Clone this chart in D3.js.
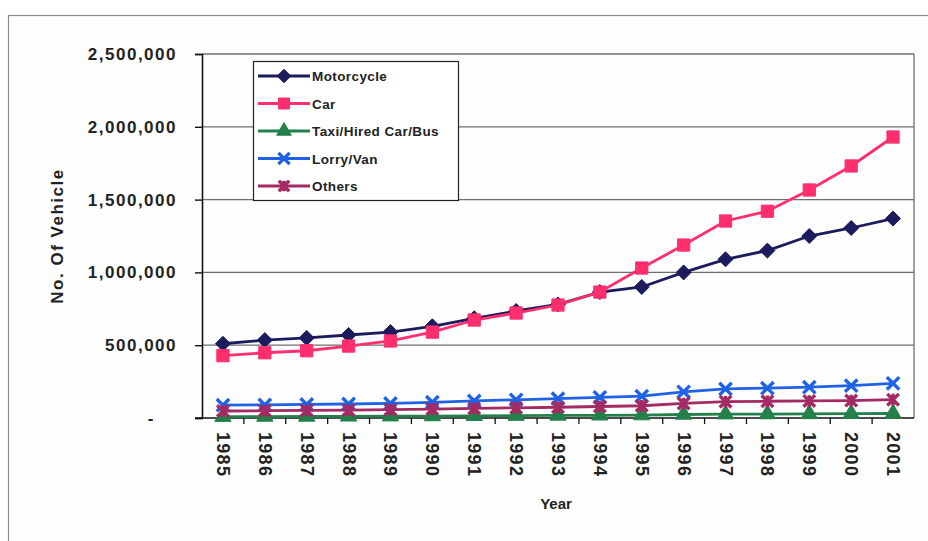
<!DOCTYPE html>
<html>
<head>
<meta charset="utf-8">
<script src="https://cdn.jsdelivr.net/npm/d3@7/dist/d3.min.js"></script>
<style>
  html, body { margin: 0; padding: 0; background: #ffffff; }
  svg { display: block; }
  text { font-family: "Liberation Sans", Arial, sans-serif; fill: #222; font-weight: bold; }
</style>
</head>
<body>
<svg id="chart" width="928" height="541"></svg>
<script>
// Registered vehicles by type, 1985–2001
const years = ["1985","1986","1987","1988","1989","1990","1991","1992","1993",
               "1994","1995","1996","1997","1998","1999","2000","2001"];
const motorcycle = [510000, 535000, 550000, 570000, 590000, 630000, 685000, 735000, 780000,
                    865000, 900000, 1000000, 1090000, 1150000, 1250000, 1305000, 1370000];
const car        = [428000, 448000, 462000, 494000, 529000, 590000, 673000, 721000, 776000,
                    865000, 1030000, 1188000, 1353000, 1420000, 1566000, 1731000, 1930000];
const taxi       = [9000, 10000, 10500, 11500, 12500, 13500, 15000, 16000, 17500,
                    18500, 20000, 24000, 26000, 27000, 28000, 29500, 31000];
const lorry      = [88000, 90000, 93000, 96000, 100000, 108000, 117000, 125000, 133000,
                    142000, 150000, 180000, 200000, 205000, 212000, 222000, 238000];
const others     = [48000, 50000, 52000, 54000, 57000, 61000, 66000, 70000, 74000,
                    79000, 84000, 100000, 112000, 115000, 117000, 120000, 126000];
const seriesNames = ["Motorcycle", "Car", "Taxi/Hired Car/Bus", "Lorry/Van", "Others"];
const yTicks = [0, 500000, 1000000, 1500000, 2000000, 2500000];

const colors  = ["#1b1b5e", "#ff2f6e", "#24804a", "#1f62e6", "#a32a62"];
const markers = ["diamond", "square", "triangle", "times", "star"];
const seriesValues = [motorcycle, car, taxi, lorry, others];

const series = seriesNames.map((name, i) => ({
  name, color: colors[i], marker: markers[i],
  values: years.map((y, j) => ({ year: y, value: seriesValues[i][j] }))
}));

const svg = d3.select("#chart");
const plot = { left: 202, right: 914, top: 54, bottom: 418 };

// outer chart frame
svg.append("rect")
  .attr("x", 8.5).attr("y", 15.5).attr("width", 940).attr("height", 560)
  .attr("fill", "#fefefe").attr("stroke", "#8a8a8a").attr("stroke-width", 1.2);

const x = d3.scaleBand().domain(years).range([plot.left, plot.right]);
const y = d3.scaleLinear().domain([0, 2500000]).range([plot.bottom, plot.top]);

// horizontal gridlines
svg.append("g")
  .selectAll("line").data(yTicks.filter(d => d > 0)).join("line")
  .attr("x1", plot.left).attr("x2", plot.right)
  .attr("y1", d => y(d)).attr("y2", d => y(d))
  .attr("stroke", "#6e6e6e").attr("stroke-width", 1.3);

// right edge of the plot area
svg.append("line")
  .attr("x1", plot.right).attr("x2", plot.right)
  .attr("y1", plot.top).attr("y2", plot.bottom)
  .attr("stroke", "#6e6e6e").attr("stroke-width", 1.3);

// y axis
const yAxis = d3.axisLeft(y).tickValues(yTicks).tickSize(7).tickPadding(18)
  .tickFormat(d => d === 0 ? "-" : d3.format(",")(d));
const gy = svg.append("g").attr("transform", `translate(${plot.left},0)`).call(yAxis);
gy.select(".domain").attr("stroke", "#111").attr("stroke-width", 1.6);
gy.selectAll(".tick line").attr("stroke", "#111").attr("stroke-width", 1.4);
gy.selectAll(".tick text")
  .attr("font-size", 17).attr("letter-spacing", 1.5)
  .attr("fill", "#222").attr("font-weight", "bold")
  .attr("dx", d => d === 0 ? -22 : 0)
  .attr("font-family", "Liberation Sans, Arial, sans-serif");

// x axis: ticks between categories, labels rotated
const xAxis = d3.axisBottom(x).tickSize(0).tickPadding(0);
const gx = svg.append("g").attr("transform", `translate(0,${plot.bottom})`).call(xAxis);
gx.select(".domain").remove();
svg.append("line")
  .attr("x1", plot.left - 7).attr("x2", plot.right)
  .attr("y1", plot.bottom).attr("y2", plot.bottom)
  .attr("stroke", "#111").attr("stroke-width", 1.6);
svg.append("g").selectAll("line").data(years.slice(1)).join("line")
  .attr("x1", d => x(d)).attr("x2", d => x(d))
  .attr("y1", plot.bottom).attr("y2", plot.bottom + 6)
  .attr("stroke", "#111").attr("stroke-width", 1.3);
gx.selectAll(".tick text")
  .attr("font-size", 18).attr("letter-spacing", 1.3)
  .attr("fill", "#222").attr("font-weight", "bold")
  .attr("font-family", "Liberation Sans, Arial, sans-serif")
  .attr("text-anchor", "start")
  .attr("dy", null)
  .attr("transform", "translate(-6,14) rotate(90)");

// axis titles
svg.append("text")
  .attr("transform", "translate(63,236) rotate(-90)")
  .attr("text-anchor", "middle")
  .attr("font-size", 17).attr("letter-spacing", 1.5)
  .text("No. Of Vehicle");
svg.append("text")
  .attr("x", 556).attr("y", 509)
  .attr("text-anchor", "middle")
  .attr("font-size", 15)
  .text("Year");

// marker drawing
function drawMarker(sel, type, color, s) {
  if (type === "diamond") {
    const r = 7.5 * s;
    sel.append("path").attr("d", `M0,${-r}L${r},0L0,${r}L${-r},0Z`)
      .attr("fill", color).attr("stroke", color).attr("stroke-width", 1);
  } else if (type === "square") {
    sel.append("path").attr("d", d3.symbol(d3.symbolSquare, 150 * s * s)())
      .attr("fill", color).attr("stroke", color).attr("stroke-width", 1);
  } else if (type === "triangle") {
    sel.append("path").attr("d", d3.symbol(d3.symbolTriangle, 115 * s * s)())
      .attr("fill", color).attr("stroke", color).attr("stroke-width", 1);
  } else if (type === "times") {
    const r = 6.2 * s;
    sel.append("path").attr("d", `M${-r},${-r}L${r},${r}M${-r},${r}L${r},${-r}`)
      .attr("fill", "none").attr("stroke", color).attr("stroke-width", 3.4);
  } else if (type === "star") {
    const r = 5.8 * s;
    sel.append("path").attr("d", `M${-r},${-r}L${r},${r}M${-r},${r}L${r},${-r}M0,${-r}L0,${r}`)
      .attr("fill", "none").attr("stroke", color).attr("stroke-width", 3.4);
  }
}

const line = d3.line().x(d => x(d.year) + x.bandwidth() / 2).y(d => y(d.value));

const gSeries = svg.append("g");
series.forEach(s => {
  const g = gSeries.append("g");
  g.append("path").datum(s.values).attr("d", line)
    .attr("fill", "none").attr("stroke", s.color).attr("stroke-width", 2.8);
  g.selectAll("g.pt").data(s.values).join("g").attr("class", "pt")
    .attr("transform", d => `translate(${x(d.year) + x.bandwidth() / 2},${y(d.value)})`)
    .each(function () { drawMarker(d3.select(this), s.marker, s.color, 1); });
});

// legend
const legend = svg.append("g").attr("transform", "translate(253,61)");
legend.append("rect").attr("x", 0.5).attr("y", 0.5).attr("width", 205).attr("height", 139)
  .attr("fill", "#ffffff").attr("stroke", "#222").attr("stroke-width", 1.2);
series.forEach((s, i) => {
  const row = legend.append("g").attr("transform", `translate(0,${15 + i * 27.5})`);
  row.append("line").attr("x1", 5).attr("x2", 57).attr("y1", 0).attr("y2", 0)
    .attr("stroke", s.color).attr("stroke-width", 2.8);
  const m = row.append("g").attr("transform", "translate(31,0)");
  drawMarker(m, s.marker, s.color, 0.9);
  row.append("text").attr("x", 59).attr("y", 5)
    .attr("font-size", 13.5).attr("letter-spacing", 0.4)
    .text(s.name);
});
</script>
</body>
</html>
